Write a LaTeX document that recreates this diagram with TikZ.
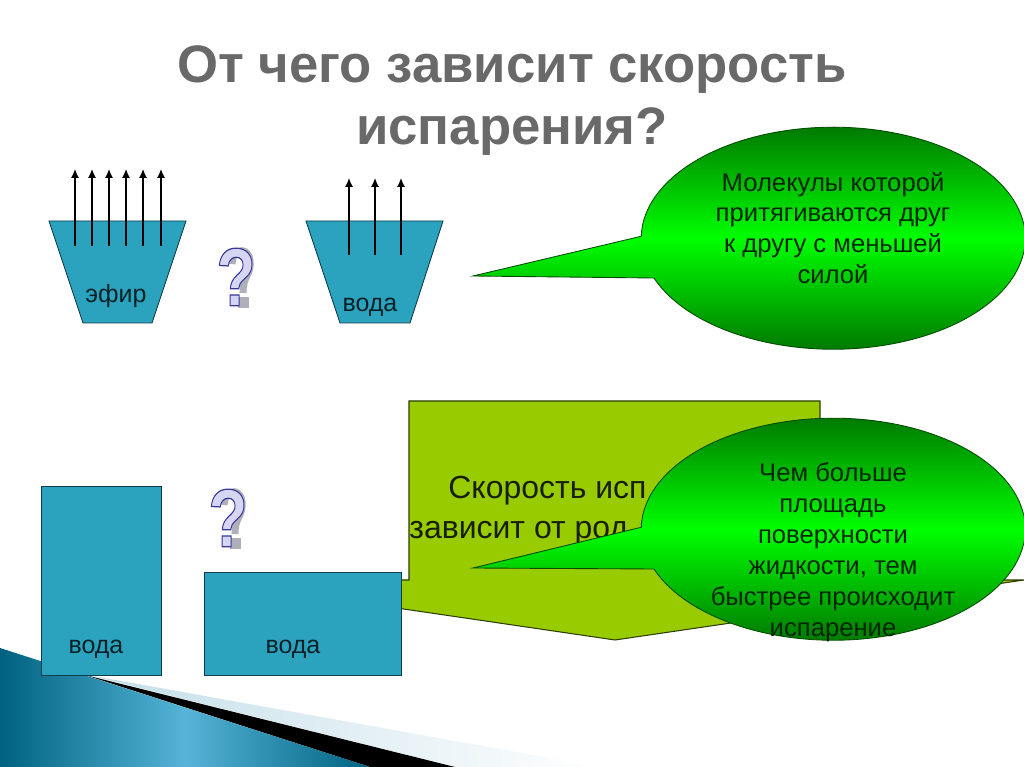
\documentclass[tikz,border=0pt]{standalone}
\usepackage{fontspec}
\setmainfont{Liberation Sans}
\usetikzlibrary{arrows.meta}
\definecolor{basin}{RGB}{43,163,190}
\definecolor{basinline}{RGB}{15,60,75}
\definecolor{olive}{RGB}{153,204,0}
\definecolor{titlegray}{RGB}{105,105,105}
\definecolor{darkgreen}{RGB}{0,105,0}
\definecolor{brightgreen}{RGB}{0,255,0}
\definecolor{wavedark}{RGB}{0,98,128}
\definecolor{wavelight}{RGB}{85,180,215}
\definecolor{stripblue}{RGB}{195,222,232}
\definecolor{markshadow}{RGB}{175,175,185}
\tikzset{
	basinbox/.style={fill=basin,draw=basinline,line width=0.5pt},
	basintext/.style={font=\fontsize{14.2}{16}\selectfont,text=black!80!basin},
	riser/.style={line width=0.75pt,-{Latex[length=5pt,width=4.5pt]}},
	bubble/.style={draw=black!70!green,line width=0.5pt,top color=darkgreen,bottom color=darkgreen,middle color=brightgreen},
	bubbletext/.style={font=\fontsize{14.6}{17.6}\selectfont,align=center,text=black!85!green},
	marktext/.style={font=\fontsize{47}{47}\selectfont\bfseries,xscale=0.78},
	paneltext/.style={anchor=base west,inner sep=0pt,font=\fontsize{18.2}{20}\selectfont,text=black!85!olive}
}
\newcommand{\markglyph}{\special{pdf:code 2 Tr 0.7 w 0.22 0.22 0.6 RG 0.84 0.84 0.95 rg}?\special{pdf:code 0 Tr}}
\begin{document}
\begin{tikzpicture}[x=0.02cm,y=0.02cm]
	\useasboundingbox (0,0) rectangle (1024,767);
	\clip (0,0) rectangle (1024,767);
	
	% bottom corner
	\shade[left color=stripblue,right color=white] (88,92) -- (600,0) -- (455,0) -- cycle;
	\fill[color=black] (85,92) -- (455,0) -- (370,0) -- cycle;
	\shade[left color=wavedark,right color=wavedark,middle color=wavelight] (0,119) -- (370,0) -- (0,0) -- cycle;
	
	% title
	\node[font=\fontsize{30}{35.2}\selectfont\bfseries,text=titlegray,align=center] (title) at (512,666) {От чего зависит скорость\\испарения?};
	
	% top basins
	\fill[basinbox] (49,546) -- (186,546) -- (152,444) -- (83,444) -- cycle;
	\fill[basinbox] (306,546) -- (443,546) -- (410,444) -- (340,444) -- cycle;
	\foreach \x in {75,92,109,126,143,161} \draw[riser] (\x,521) -- (\x,598);
	\foreach \x in {349,375,401} \draw[riser] (\x,512) -- (\x,589);
	\node[basintext] (ether) at (116,471) {эфир};
	\node[basintext] (water1) at (370,460) {вода};
	
	% question marks
	\draw[color=markshadow,line width=4pt] (232,503) .. controls (233,521) and (252,521) .. (250,501) .. controls (249,490) and (243,490) .. (243,474);
	\fill[color=markshadow] (238,459) rectangle (249,470);
	\node[marktext] (mark1) at (236,490) {\markglyph};
	\draw[color=markshadow,line width=4pt] (224,262) .. controls (225,280) and (244,280) .. (242,260) .. controls (241,249) and (235,249) .. (235,233);
	\fill[color=markshadow] (230,218) rectangle (241,229);
	\node[marktext] (mark2) at (228,249) {\markglyph};
	
	% olive panel
	\draw[fill=olive,draw=black!70!olive,line width=0.6pt] (409,366) -- (820,366) -- (820,187) -- (1024,187) -- (615,127) -- (206,187) -- (409,187) -- cycle;
	\node[paneltext] (speed1) at (448,268) {Скорость исп};
	\node[paneltext] (speed2) at (409,228) {зависит от род};
	
	% bottom boxes
	\fill[basinbox] (41,92) rectangle (161,281);
	\fill[basinbox] (204,92) rectangle (401,195);
	\node[basintext] (water2) at (96,118) {вода};
	\node[basintext] (water3) at (293,118) {вода};
	
	% callouts
	\path[bubble] (654,489) arc[start angle=201,end angle=539,x radius=192,y radius=111] -- (473,491) -- cycle;
	\node[bubbletext] (answer1) at (833,539) {Молекулы которой\\притягиваются друг\\к другу с меньшей\\силой};
	
	\path[bubble] (654,198) arc[start angle=201,end angle=539,x radius=192,y radius=111] -- (473,199) -- cycle;
	\node[bubbletext] (answer2) at (833,215) {Чем больше\\площадь\\поверхности\\жидкости, тем\\быстрее происходит\\испарение};
	
\end{tikzpicture}
\end{document}
